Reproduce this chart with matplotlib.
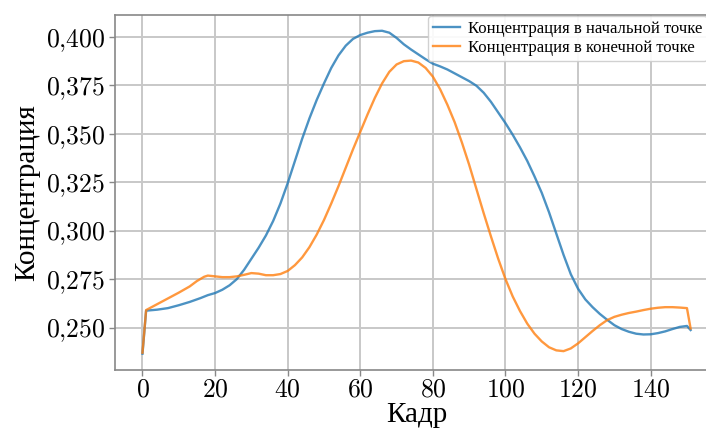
import matplotlib
matplotlib.use("Agg")
import matplotlib.pyplot as plt
from matplotlib.ticker import FuncFormatter

# frame numbers and concentrations
frames_start = [0, 1, 4, 7, 10, 13, 16, 18, 20, 22, 24, 26, 28, 30, 32, 34, 36,
                38, 40, 42, 44, 46, 48, 50, 52, 54, 56, 58, 60, 62, 64, 66, 68,
                70, 72, 74, 76, 78, 80, 82, 84, 86, 88, 90, 92, 94, 96, 98, 100,
                102, 104, 106, 108, 110, 112, 114, 116, 118, 120, 122, 124, 126,
                128, 130, 132, 134, 136, 138, 140, 142, 144, 146, 148, 150, 151]
conc_start = [0.2365, 0.2587, 0.2592, 0.2600, 0.2615, 0.2632, 0.2652, 0.2667,
              0.2678, 0.2695, 0.2718, 0.2750, 0.2798, 0.2855, 0.2912, 0.2975,
              0.3050, 0.3140, 0.3245, 0.3360, 0.3475, 0.3580, 0.3675, 0.3760,
              0.3840, 0.3905, 0.3955, 0.3990, 0.4010, 0.4022, 0.4030, 0.4032,
              0.4022, 0.3995, 0.3962, 0.3935, 0.3910, 0.3885, 0.3862, 0.3848,
              0.3832, 0.3812, 0.3792, 0.3772, 0.3748, 0.3712, 0.3665, 0.3610,
              0.3555, 0.3495, 0.3430, 0.3360, 0.3280, 0.3195, 0.3095, 0.2985,
              0.2875, 0.2775, 0.2700, 0.2645, 0.2605, 0.2570, 0.2540, 0.2512,
              0.2492, 0.2478, 0.2468, 0.2464, 0.2465, 0.2471, 0.2480, 0.2492,
              0.2503, 0.2508, 0.2487]

frames_end = [0, 1, 4, 7, 10, 13, 15, 17, 18, 20, 22, 24, 26, 28, 30, 32, 34,
              36, 38, 40, 42, 44, 46, 48, 50, 52, 54, 56, 58, 60, 62, 64, 66, 68,
              70, 72, 74, 76, 78, 80, 82, 84, 86, 88, 90, 92, 94, 96, 98, 100,
              102, 104, 106, 108, 110, 112, 114, 116, 118, 120, 122, 124, 126,
              128, 130, 132, 134, 136, 138, 140, 142, 144, 146, 148, 150, 151]
conc_end = [0.2370, 0.2590, 0.2620, 0.2650, 0.2680, 0.2712, 0.2740, 0.2762,
            0.2768, 0.2764, 0.2760, 0.2760, 0.2764, 0.2772, 0.2781, 0.2778,
            0.2770, 0.2770, 0.2776, 0.2792, 0.2822, 0.2862, 0.2915, 0.2980,
            0.3055, 0.3140, 0.3230, 0.3325, 0.3420, 0.3510, 0.3600, 0.3685,
            0.3760, 0.3820, 0.3858, 0.3875, 0.3878, 0.3868, 0.3840, 0.3795,
            0.3730, 0.3650, 0.3560, 0.3455, 0.3340, 0.3215, 0.3090, 0.2970,
            0.2855, 0.2750, 0.2660, 0.2585, 0.2520, 0.2468, 0.2428, 0.2398,
            0.2382, 0.2378, 0.2392, 0.2418, 0.2450, 0.2482, 0.2512, 0.2538,
            0.2555, 0.2566, 0.2575, 0.2582, 0.2590, 0.2597, 0.2602, 0.2605,
            0.2605, 0.2603, 0.2600, 0.2495]

labels = ["Концентрация в начальной точке", "Концентрация в конечной точке"]

plt.rcParams["font.family"] = ["Liberation Serif", "DejaVu Serif"]
plt.rcParams["mathtext.fontset"] = "cm"

fig = plt.figure(figsize=(7.06, 4.30), dpi=100)
# the right edge of the axes runs past the figure, as in the reference
ax = fig.add_axes([0.163, 0.14, 0.854, 0.826])

ax.plot(frames_start, conc_start, color="tab:blue", alpha=0.8, lw=1.7, label=labels[0])
ax.plot(frames_end, conc_end, color="tab:orange", alpha=0.8, lw=1.7, label=labels[1])

ax.set_xticks(range(0, 141, 20))
ax.set_yticks([0.250, 0.275, 0.300, 0.325, 0.350, 0.375, 0.400])
ax.xaxis.set_major_formatter(FuncFormatter(lambda v, p: r"$%d$" % v))
ax.yaxis.set_major_formatter(
    FuncFormatter(lambda v, p: r"$%s$" % ("%.3f" % v).replace(".", "{,}")))
ax.tick_params(labelsize=18.5, length=4, color="#888888", width=1, pad=3)

ax.grid(True, color="#c8c8c8", lw=1.4)
ax.set_axisbelow(True)
for side in ["left", "bottom", "top"]:
    ax.spines[side].set_color("#888888")
    ax.spines[side].set_linewidth(1.2)
ax.spines["right"].set_visible(False)

ax.set_xlabel("Кадр", fontsize=21, labelpad=0)
ax.set_ylabel("Концентрация", fontsize=21, labelpad=4)

ax.legend(loc="upper left", bbox_to_anchor=(428 / 706, 1 - 16 / 430),
          bbox_transform=fig.transFigure, fontsize=12, framealpha=0.9,
          borderaxespad=0, borderpad=0.3, handlelength=1.6, handletextpad=0.5,
          labelspacing=0.15)

fig.savefig("out.png", dpi=100)
